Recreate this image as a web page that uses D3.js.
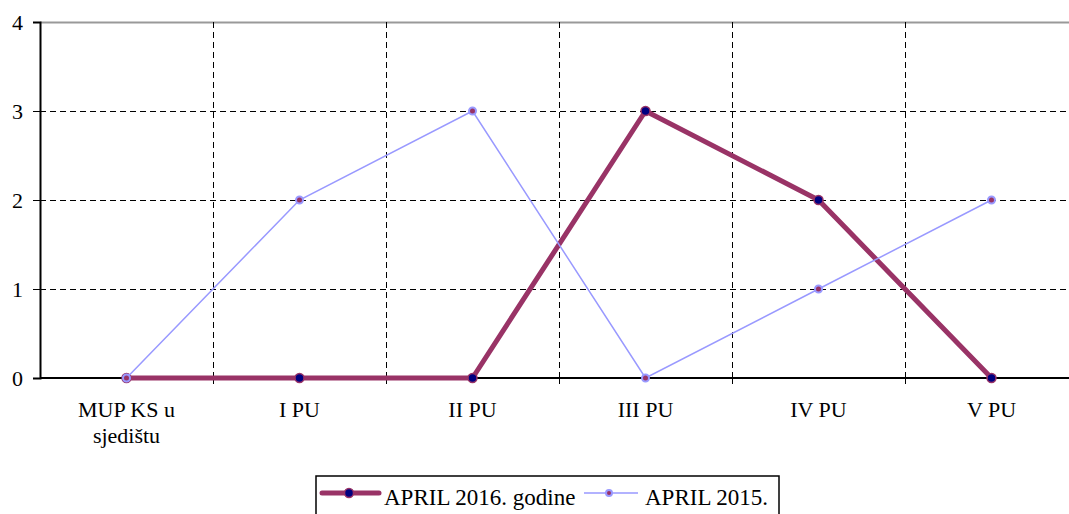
<!DOCTYPE html>
<html><head><meta charset="utf-8">
<script src="https://cdn.jsdelivr.net/npm/d3@7"></script>
<style>
html,body{margin:0;padding:0;background:#fff;overflow:hidden;}
text{font-family:"Liberation Serif","Times New Roman",serif;}
</style></head>
<body><svg id="c" width="1069" height="514"></svg>
<script>
const categories = [["MUP KS u","sjedištu"],["I PU"],["II PU"],["III PU"],["IV PU"],["V PU"]];
const series2016 = [0,0,0,3,2,0];
const series2015 = [0,2,3,0,1,2];
const yTicks = [0,1,2,3,4];
const legendLabels = ["APRIL 2016. godine","APRIL 2015."];

(function(){
const svg = d3.select("#c");
const pl=40, pr=1078, pt=22, pb=378;
const x = d3.scaleBand().domain(d3.range(categories.length)).range([pl,pr]).paddingInner(0).paddingOuter(0);
const y = d3.scaleLinear().domain([0,4]).range([pb,pt]);
const cx = i => x(i)+x.bandwidth()/2;
const FS = 22;

// horizontal grid
svg.append("g").selectAll("line").data(yTicks.filter(d=>d>0)).join("line")
  .attr("x1",pl).attr("x2",pr).attr("y1",d=>Math.round(y(d))+0.5).attr("y2",d=>Math.round(y(d))+0.5)
  .attr("stroke",d=>d===4?"#999":"#000").attr("stroke-width",d=>d===4?2:1)
  .attr("stroke-dasharray",d=>d===4?null:"6,4");
// vertical grid
svg.append("g").selectAll("line").data(d3.range(1,categories.length)).join("line")
  .attr("x1",d=>Math.round(x(d))+0.5).attr("x2",d=>Math.round(x(d))+0.5).attr("y1",pt).attr("y2",pb)
  .attr("stroke","#000").attr("stroke-dasharray","6,4");

// y axis
const ya = svg.append("g").attr("transform",`translate(${pl},0)`)
  .call(d3.axisLeft(y).tickValues(yTicks).tickFormat(d3.format("d")).tickSize(7).tickPadding(10));
ya.select(".domain").attr("stroke","#000").attr("stroke-width",2);
ya.selectAll("text").attr("font-size",FS).attr("fill","#000").attr("font-family","Liberation Serif");
ya.selectAll(".tick line").attr("stroke","#000");

// x axis
const xa = svg.append("g").attr("transform",`translate(0,${pb})`);
xa.append("line").attr("x1",pl).attr("x2",pr).attr("stroke","#000").attr("stroke-width",2);
xa.selectAll(".tk").data(d3.range(1,categories.length)).join("line").attr("class","tk")
  .attr("x1",d=>Math.round(x(d))+0.5).attr("x2",d=>Math.round(x(d))+0.5).attr("y1",0).attr("y2",6).attr("stroke","#000");
xa.selectAll(".lbl").data(categories).join("text").attr("class","lbl")
  .attr("text-anchor","middle").attr("font-size",FS).attr("fill","#000")
  .each(function(d,i){
    const t=d3.select(this);
    d.forEach((s,j)=>t.append("tspan").attr("x",cx(i)).attr("y",39+j*26).text(s));
  });

const line = d3.line().x((d,i)=>cx(i)).y(d=>y(d));
// 2016
svg.append("path").datum(series2016).attr("d",line).attr("fill","none")
  .attr("stroke","#993366").attr("stroke-width",5).attr("stroke-linejoin","round");
svg.append("g").selectAll("circle").data(series2016).join("circle")
  .attr("cx",(d,i)=>cx(i)).attr("cy",d=>y(d)).attr("r",4.5)
  .attr("fill","#000080").attr("stroke","#993366").attr("stroke-width",1.5);
// 2015
svg.append("path").datum(series2015).attr("d",line).attr("fill","none")
  .attr("stroke","#9999FF").attr("stroke-width",1.5);
svg.append("g").selectAll("circle").data(series2015).join("circle")
  .attr("cx",(d,i)=>cx(i)).attr("cy",d=>y(d)).attr("r",3.5)
  .attr("fill","#993366").attr("stroke","#9999FF").attr("stroke-width",2);

// legend
const lg = svg.append("g");
lg.append("rect").attr("x",316).attr("y",476).attr("width",463).attr("height",50)
  .attr("fill","#fff").attr("stroke","#000").attr("stroke-width",1.5);
const ly=493;
lg.append("line").attr("x1",322).attr("x2",379).attr("y1",ly).attr("y2",ly)
  .attr("stroke","#993366").attr("stroke-width",5).attr("stroke-linecap","round");
lg.append("circle").attr("cx",349).attr("cy",ly).attr("r",4.5).attr("fill","#000080").attr("stroke","#993366").attr("stroke-width",1.5);
lg.append("text").attr("x",384).attr("y",505).attr("font-size",FS+1).text(legendLabels[0]);
lg.append("line").attr("x1",584).attr("x2",638).attr("y1",ly).attr("y2",ly)
  .attr("stroke","#9999FF").attr("stroke-width",1.5);
lg.append("circle").attr("cx",609).attr("cy",ly).attr("r",3).attr("fill","#993366").attr("stroke","#9999FF").attr("stroke-width",2);
lg.append("text").attr("x",645).attr("y",505).attr("font-size",FS+1).text(legendLabels[1]);
})();
</script></body></html>
